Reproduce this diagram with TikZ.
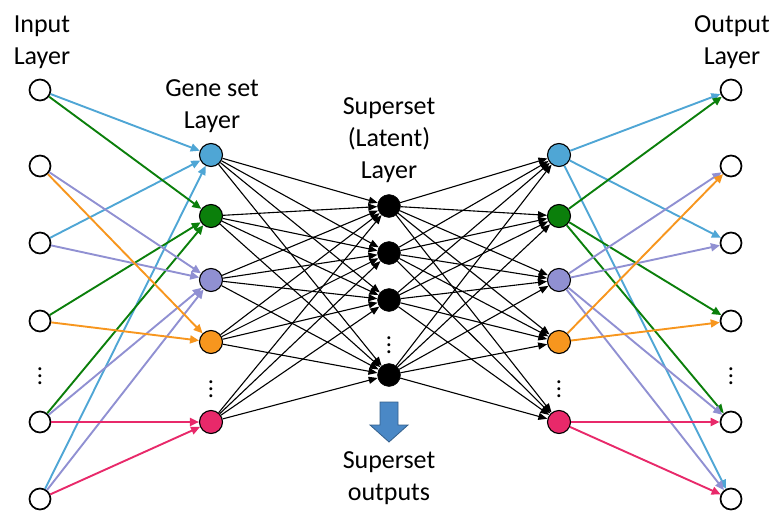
\documentclass[tikz,border=0pt]{standalone}
\usepackage{fontspec}
\setmainfont{Carlito}
\usetikzlibrary{arrows.meta}
\definecolor{setblue}{HTML}{4FA6D5}
\definecolor{setgreen}{HTML}{0B7F0B}
\definecolor{setpurple}{HTML}{9090D2}
\definecolor{setorange}{HTML}{F7961E}
\definecolor{setpink}{HTML}{E8296A}
\definecolor{boxblue}{HTML}{4A88C6}
\tikzstyle{unit} = [circle, draw, line width=1.7pt, minimum size=21pt, inner sep=0pt]
\tikzstyle{geneset} = [circle, draw, line width=1.1pt, minimum size=23pt, inner sep=0pt]
\tikzstyle{latent} = [circle, draw, fill=black, minimum size=23pt, inner sep=0pt]
\tikzstyle{layertext} = [align=center, font=\fontsize{26}{32}\selectfont]
\tikzstyle{vdotsnode} = [inner sep=0pt]
\newcommand{\layerdots}{\scalebox{1.75}{\fontsize{14}{14}\selectfont$\vdots$}}
\tikzset{edge/.style = {
    -{Triangle[length=9pt,width=8pt]},
    line width=1.9pt,
  },
  link/.style = {
    -{Triangle[length=9pt,width=7pt]},
    line width=1.1pt,
  }
}

\begin{document}
\begin{tikzpicture}[x=1pt, y=-1pt]
  \useasboundingbox (0,0) rectangle (774,511);
  % labels
  \node[layertext] (tin) at (42, 42) {Input\\Layer};
  \node[layertext] (tgs) at (212, 106) {Gene set\\Layer};
  \node[layertext] (tlat) at (389, 140) {Superset\\(Latent)\\Layer};
  \node[layertext] (tout) at (732, 42) {Output\\Layer};
  \node[layertext] (tso) at (389, 478) {Superset\\outputs};

  % input layer
  \node[unit] (i1) at (40, 90) {};
  \node[unit] (i2) at (40, 166) {};
  \node[unit] (i3) at (40, 243) {};
  \node[unit] (i4) at (40, 321) {};
  \node[vdotsnode] (idots) at (40, 371) {\layerdots};
  \node[unit] (i5) at (40, 422) {};
  \node[unit] (i6) at (40, 499) {};

  % gene set layer (left)
  \node[geneset, fill=setblue] (g1) at (211, 155) {};
  \node[geneset, fill=setgreen] (g2) at (211, 216) {};
  \node[geneset, fill=setpurple] (g3) at (211, 280) {};
  \node[geneset, fill=setorange] (g4) at (211, 342) {};
  \node[vdotsnode] (gdots) at (211, 384) {\layerdots};
  \node[geneset, fill=setpink] (g5) at (211, 422) {};

  % latent layer
  \node[latent] (l1) at (389, 206) {};
  \node[latent] (l2) at (389, 253) {};
  \node[latent] (l3) at (389, 300) {};
  \node[vdotsnode] (ldots) at (389, 340) {\layerdots};
  \node[latent] (l4) at (389, 375) {};

  % gene set layer (right)
  \node[geneset, fill=setblue] (h1) at (559, 155) {};
  \node[geneset, fill=setgreen] (h2) at (559, 216) {};
  \node[geneset, fill=setpurple] (h3) at (559, 280) {};
  \node[geneset, fill=setorange] (h4) at (559, 342) {};
  \node[vdotsnode] (hdots) at (559, 384) {\layerdots};
  \node[geneset, fill=setpink] (h5) at (559, 422) {};

  % output layer
  \node[unit] (o1) at (731, 90) {};
  \node[unit] (o2) at (731, 166) {};
  \node[unit] (o3) at (731, 243) {};
  \node[unit] (o4) at (731, 321) {};
  \node[vdotsnode] (odots) at (731, 371) {\layerdots};
  \node[unit] (o5) at (731, 422) {};
  \node[unit] (o6) at (731, 499) {};

  % input -> gene set
  \draw[edge, setblue] (i1) to (g1);
  \draw[edge, setblue] (i3) to (g1);
  \draw[edge, setblue] (i6) to (g1);
  \draw[edge, setgreen] (i1) to (g2);
  \draw[edge, setgreen] (i4) to (g2);
  \draw[edge, setgreen] (i5) to (g2);
  \draw[edge, setpurple] (i2) to (g3);
  \draw[edge, setpurple] (i3) to (g3);
  \draw[edge, setpurple] (i5) to (g3);
  \draw[edge, setpurple] (i6) to (g3);
  \draw[edge, setorange] (i2) to (g4);
  \draw[edge, setorange] (i4) to (g4);
  \draw[edge, setpink] (i5) to (g5);
  \draw[edge, setpink] (i6) to (g5);

  % gene set -> latent -> gene set
  \foreach \g in {g1,g2,g3,g4,g5}
    \foreach \l in {l1,l2,l3,l4}
      \draw[link] (\g) to (\l);
  \foreach \l in {l1,l2,l3,l4}
    \foreach \h in {h1,h2,h3,h4,h5}
      \draw[link] (\l) to (\h);

  % gene set -> output
  \draw[edge, setblue] (h1) to (o1);
  \draw[edge, setblue] (h1) to (o3);
  \draw[edge, setblue] (h1) to (o6);
  \draw[edge, setgreen] (h2) to (o1);
  \draw[edge, setgreen] (h2) to (o4);
  \draw[edge, setgreen] (h2) to (o5);
  \draw[edge, setpurple] (h3) to (o2);
  \draw[edge, setpurple] (h3) to (o3);
  \draw[edge, setpurple] (h3) to (o5);
  \draw[edge, setpurple] (h3) to (o6);
  \draw[edge, setorange] (h4) to (o2);
  \draw[edge, setorange] (h4) to (o4);
  \draw[edge, setpink] (h5) to (o5);
  \draw[edge, setpink] (h5) to (o6);

  % block arrow
  \draw[fill=boxblue, draw=boxblue!70!black, line width=0.8pt]
    (380, 402) -- (398, 402) -- (398, 425) -- (408, 425) -- (389, 442)
    -- (370, 425) -- (380, 425) -- cycle;
\end{tikzpicture}
\end{document}
